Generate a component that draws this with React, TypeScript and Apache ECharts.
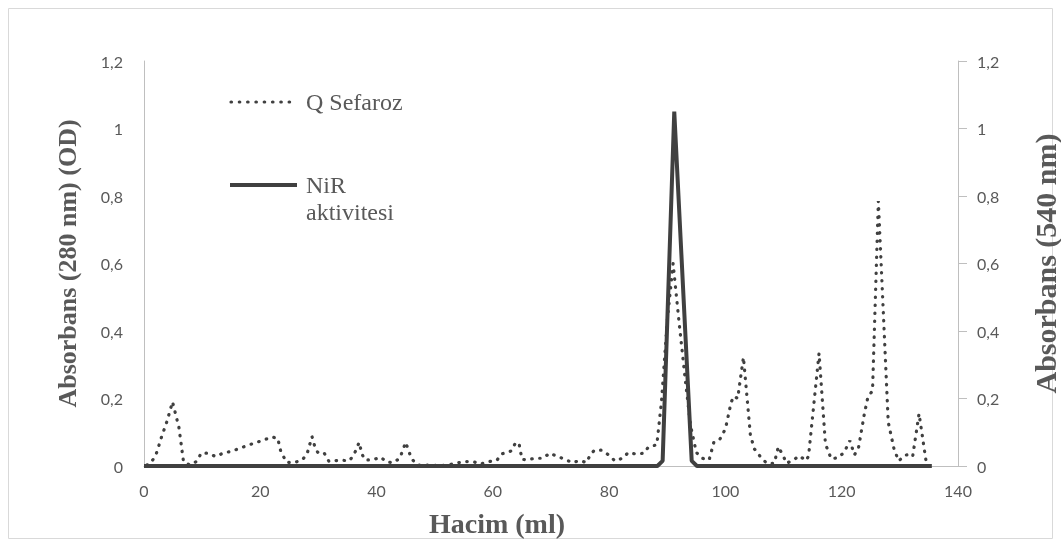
import React, { useEffect, useRef } from "react";
import * as echarts from "echarts";

// Q Sefaroz (280 nm) – volume (ml) and absorbance
const sefarozVolume = [
  0.5, 1, 2, 3, 4, 4.9, 6, 6.8, 7.9, 9.2, 9.8, 11.1, 12.3, 13.6, 15.1, 16.4, 17.8, 19.2, 20.6, 22, 23,
  23.5, 24.5, 25.8, 27.1, 28, 28.9, 29.5, 30, 31, 31.8, 34, 35.3, 36.1, 37, 37.5, 38, 39.3, 40.7, 41.7,
  42.9, 44, 45, 46, 47, 48.3, 50, 52, 54.1, 55.4, 56.6, 57.9, 59.3, 60.7, 61.5, 62.5, 63.2, 63.9, 64.5,
  65, 65.8, 67.2, 68.6, 69.8, 71.1, 72.4, 73.6, 75, 76.1, 76.8, 77.5, 78.7, 79.9, 81, 82.3, 83.3, 84.7,
  86, 86.7, 87.6, 88.2, 89, 90, 91, 92, 93, 94, 95, 96, 97.2, 98, 99, 100, 101, 101.5, 102.1, 103.1,
  104.3, 105, 106, 107.1, 108.4, 109.1, 110, 110.5, 111.7, 112.7, 113.9, 114.3, 116.1, 117.2, 118.2,
  119.4, 120.4, 121.4, 122.2, 122.9, 123.9, 124.5, 125.3, 126.3, 128, 129, 129.8, 130.9, 131.6, 132.2,
  133.3, 134.5,
];
const sefarozAbs = [
  0.003, 0.006, 0.03, 0.085, 0.135, 0.19, 0.115, 0.012, 0.003, 0.015, 0.038, 0.038, 0.028, 0.038, 0.044,
  0.052, 0.061, 0.069, 0.077, 0.086, 0.082, 0.045, 0.011, 0.01, 0.017, 0.033, 0.087, 0.05, 0.038, 0.038,
  0.014, 0.017, 0.015, 0.033, 0.07, 0.035, 0.018, 0.018, 0.026, 0.012, 0.01, 0.023, 0.07, 0.022, 0.003,
  0.003, 0.002, 0.002, 0.01, 0.013, 0.013, 0.006, 0.013, 0.017, 0.036, 0.04, 0.045, 0.069, 0.067, 0.02,
  0.018, 0.023, 0.023, 0.038, 0.028, 0.02, 0.01, 0.016, 0.01, 0.035, 0.047, 0.047, 0.033, 0.015, 0.023,
  0.04, 0.035, 0.038, 0.055, 0.06, 0.063, 0.19, 0.43, 0.6, 0.43, 0.27, 0.12, 0.04, 0.023, 0.018, 0.07,
  0.078, 0.11, 0.19, 0.207, 0.2, 0.322, 0.09, 0.05, 0.028, 0.008, 0.008, 0.057, 0.028, 0.008, 0.018, 0.03,
  0.016, 0.03, 0.334, 0.065, 0.021, 0.025, 0.04, 0.075, 0.033, 0.055, 0.155, 0.204, 0.223, 0.785, 0.13,
  0.05, 0.015, 0.032, 0.034, 0.028, 0.155, 0.015,
];

// NiR aktivitesi (540 nm)
const nirVolume = [0, 88.3, 89.2, 91.2, 94.2, 95.1, 135.5];
const nirAbs = [0, 0, 0.015, 1.05, 0.015, 0, 0];

const xTicks = { min: 0, max: 140, interval: 20 };
const yTicks = { min: 0, max: 1.2, interval: 0.2 };

const legendLabels = ["Q Sefaroz", "NiR", "aktivitesi"];

const W = 1061;
const H = 547;

export default function App() {
  const ref = useRef<HTMLDivElement>(null);
  useEffect(() => {
    if (!ref.current) return;
    const chart = echarts.init(ref.current, undefined, { renderer: "svg" });
    const fmt = (v: number) => String(Math.round(v * 10) / 10).replace(".", ",");
    const labelStyle = { color: "#595959", fontFamily: "Lato", fontSize: 16 };
    const titleBase = {
      color: "#595959",
      fontFamily: "Liberation Serif",
      fontWeight: "bold" as const,
    };
    const legendFont = "24px 'Liberation Serif'";
    chart.setOption({
      animation: false,
      grid: { left: 144, right: 103, top: 61, bottom: 81, outerBoundsMode: "none", containLabel: false },
      xAxis: {
        type: "value",
        ...xTicks,
        name: "Hacim (ml)",
        nameLocation: "middle",
        nameGap: 43,
        nameTextStyle: { ...titleBase, fontSize: 28, padding: [0, 108, 0, 0] },
        axisLine: { show: true, lineStyle: { color: "#bfbfbf", width: 1 } },
        axisTick: { show: false },
        splitLine: { show: false },
        axisLabel: { ...labelStyle, margin: 16 },
      },
      yAxis: [
        {
          type: "value",
          ...yTicks,
          position: "left",
          name: "Absorbans (280 nm) (OD)",
          nameLocation: "middle",
          nameRotate: 90,
          nameGap: 64,
          nameTextStyle: { ...titleBase, fontSize: 26 },
          axisLine: { show: true, lineStyle: { color: "#bfbfbf", width: 1 } },
          axisTick: { show: false },
          splitLine: { show: false },
          axisLabel: { ...labelStyle, margin: 21, formatter: fmt },
        },
        {
          type: "value",
          ...yTicks,
          position: "right",
          name: "Absorbans (540 nm)",
          nameLocation: "middle",
          nameRotate: 90,
          nameGap: 72,
          nameTextStyle: { ...titleBase, fontSize: 30 },
          axisLine: { show: true, lineStyle: { color: "#bfbfbf", width: 1 } },
          axisTick: { show: true, inside: false, length: 9, lineStyle: { color: "#bfbfbf" } },
          splitLine: { show: false },
          axisLabel: { ...labelStyle, margin: 19, formatter: fmt },
        },
      ],
      series: [
        {
          name: "Q Sefaroz",
          type: "line",
          yAxisIndex: 0,
          showSymbol: false,
          symbol: "none",
          data: sefarozVolume.map((v, i) => [v, sefarozAbs[i]]),
          lineStyle: { color: "#404040", width: 3.2, type: [0.5, 7.5], cap: "round" },
          z: 3,
        },
        {
          name: "NiR aktivitesi",
          type: "line",
          yAxisIndex: 1,
          showSymbol: false,
          symbol: "none",
          data: nirVolume.map((v, i) => [v, nirAbs[i]]),
          lineStyle: { color: "#404040", width: 4 },
          z: 2,
        },
      ],
      graphic: [
        {
          type: "rect",
          shape: { x: 8.5, y: 8.5, width: 1044, height: 530 },
          style: { fill: "none", stroke: "#d9d9d9", lineWidth: 1 },
          silent: true,
        },
        {
          type: "line",
          shape: { x1: 231, y1: 102, x2: 294, y2: 102 },
          style: { stroke: "#404040", lineWidth: 3.2, lineDash: [0.5, 7.8], lineCap: "round" },
        },
        {
          type: "text",
          x: 306,
          y: 102,
          style: { text: legendLabels[0], fill: "#595959", font: legendFont, verticalAlign: "middle" },
        },
        {
          type: "line",
          shape: { x1: 230, y1: 185, x2: 297, y2: 185 },
          style: { stroke: "#404040", lineWidth: 4 },
        },
        {
          type: "text",
          x: 306,
          y: 185,
          style: { text: legendLabels[1], fill: "#595959", font: legendFont, verticalAlign: "middle" },
        },
        {
          type: "text",
          x: 306,
          y: 212,
          style: { text: legendLabels[2], fill: "#595959", font: legendFont, verticalAlign: "middle" },
        },
      ],
    });
    return () => chart.dispose();
  }, []);
  return (
    <div
      ref={ref}
      style={{ position: "fixed", left: 0, top: 0, width: W, height: H }}
    />
  );
}
